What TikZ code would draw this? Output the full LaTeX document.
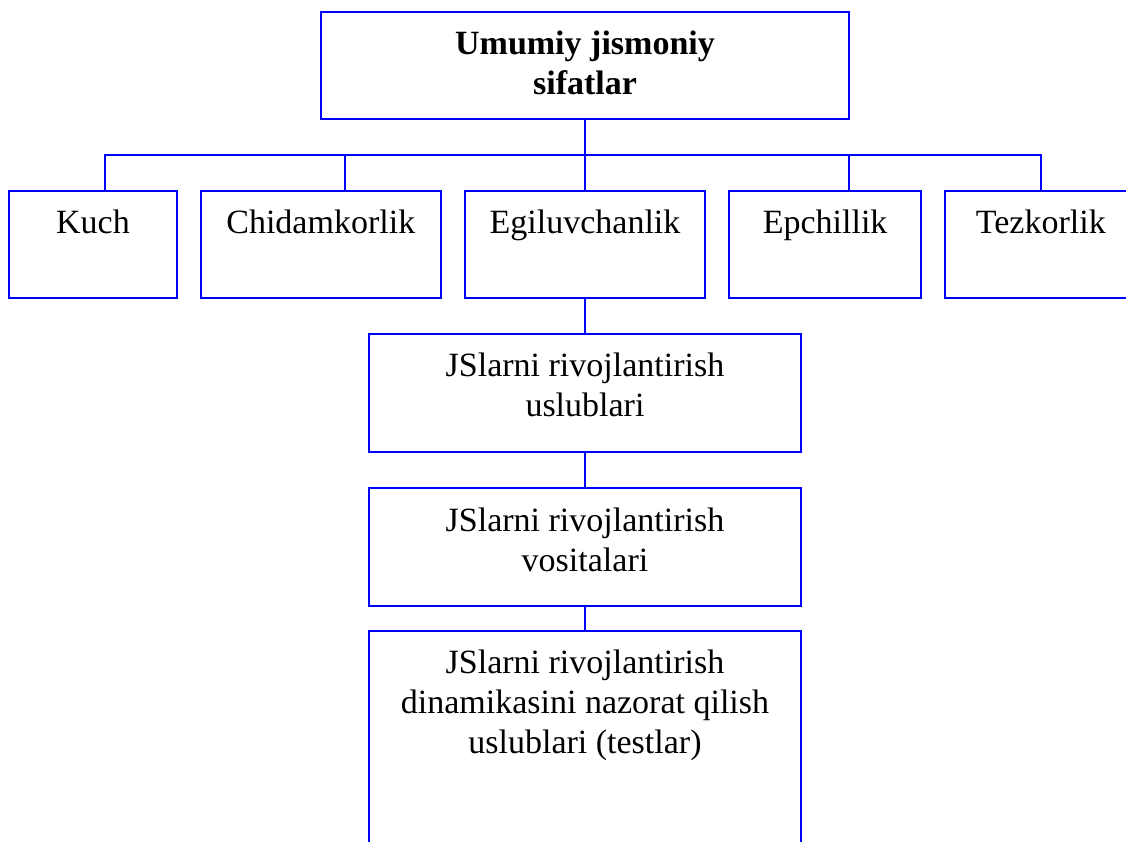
\documentclass[tikz,border=0pt]{standalone}
\usepackage{fontspec}
\setmainfont{Liberation Serif}
\usepackage{tikz}
\usetikzlibrary{positioning}

\begin{document}
\begin{tikzpicture}[
    x=1pt, y=-1pt,
    box/.style={rectangle, draw=blue, line width=2pt, inner sep=0pt, minimum height=107pt},
    midbox/.style={box, minimum width=432.5pt, minimum height=118pt},
    lbl/.style={anchor=north, align=center, inner sep=0pt, yshift=-20pt, font=\fontsize{34}{40}\selectfont},
    link/.style={draw=blue, line width=2pt}
]
\path[use as bounding box, clip] (0,0) rectangle (1126,841);

\node[box, minimum width=528.6pt, label={[lbl, font=\fontsize{34}{40}\selectfont\bfseries]north:Umumiy jismoniy\\sifatlar}] (title) at (585,65.5) {};

\node[box, minimum width=168.8pt, label={[lbl]north:Kuch}] (kuch) at (93,244.2) {};
\node[box, minimum width=240.2pt, label={[lbl]north:Chidamkorlik}] (chid) at (320.8,244.2) {};
\node[box, minimum width=240.6pt, label={[lbl]north:Egiluvchanlik}] (egil) at (585,244.2) {};
\node[box, minimum width=192.4pt, label={[lbl]north:Epchillik}] (epch) at (825.1,244.2) {};
\node[box, minimum width=191.8pt, label={[lbl]north:Tezkorlik}] (tez) at (1040.8,244.2) {};

\node[midbox, label={[lbl]north:JSlarni rivojlantirish\\uslublari}] (usl) at (585,392.8) {};
\node[midbox, label={[lbl]north:JSlarni rivojlantirish\\vositalari}] (vos) at (585,547.3) {};
\node[midbox, minimum height=260pt, label={[lbl]north:JSlarni rivojlantirish\\dinamikasini nazorat qilish\\uslublari (testlar)}] (naz) at (585,761) {};

% tree lines
\coordinate (hub) at (585,155);
\draw[link] (title.south) -- (hub);
\draw[link] ([xshift=11.8pt]kuch.north) |- (hub);
\draw[link] ([xshift=24.3pt]chid.north) |- (hub);
\draw[link] (hub) -- (egil.north);
\draw[link] ([xshift=24.1pt]epch.north) |- (hub);
\draw[link] (tez.north) |- (hub);
\draw[link] (egil.south) -- (usl.north);
\draw[link] (usl.south) -- (vos.north);
\draw[link] (vos.south) -- (naz.north);
\end{tikzpicture}
\end{document}
